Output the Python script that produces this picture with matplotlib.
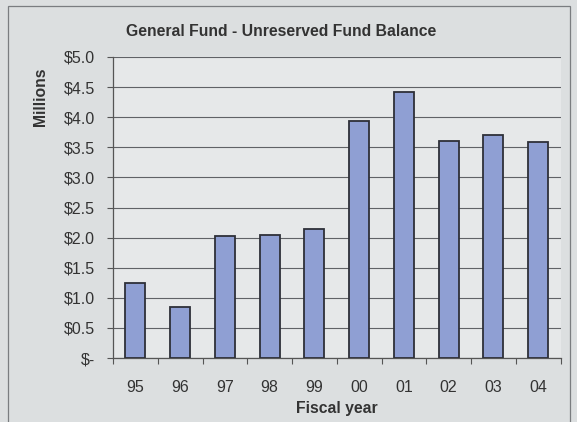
import numpy as np
import matplotlib.pyplot as plt
from matplotlib.patches import Rectangle

# Fiscal years and unreserved fund balance (millions of dollars)
years = ['95', '96', '97', '98', '99', '00', '01', '02', '03', '04']
balance = [1.24, 0.85, 2.03, 2.05, 2.15, 3.94, 4.42, 3.60, 3.70, 3.59]
y_ticks = [0.0, 0.5, 1.0, 1.5, 2.0, 2.5, 3.0, 3.5, 4.0, 4.5, 5.0]

plt.rcParams['font.family'] = ['Liberation Sans', 'DejaVu Sans']

fig = plt.figure(figsize=(5.77, 4.22), dpi=100)
fig.patch.set_facecolor('#dcdfe0')

# Chart frame around everything
fig.patches.append(Rectangle((8 / 577, -0.05), 562 / 577, 1.05 - 6 / 422,
                             transform=fig.transFigure, fill=False,
                             edgecolor='#7a7d80', linewidth=0.9))

ax = fig.add_axes([113 / 577, 64 / 422, 447.5 / 577, 301 / 422])
ax.set_facecolor('#e6e8e9')

x = np.arange(len(years))
ax.bar(x, balance, width=0.45, color='#8f9fd3', edgecolor='#2e3038',
       linewidth=1.3, zorder=3)

ax.set_xlim(-0.5, len(years) - 0.5)
ax.set_ylim(0, 5.0)

ax.set_yticks(y_ticks)
ax.set_yticklabels(['$-' if v == 0 else f'${v:.1f}' for v in y_ticks])
ax.set_xticks(x)
ax.set_xticklabels(years)
ax.set_xticks(np.arange(-0.5, len(years)), minor=True)

ax.tick_params(axis='x', which='major', length=0, pad=16,
               labelsize=11.5, labelcolor='#333333')
ax.tick_params(axis='x', which='minor', length=4, color='#555555', width=0.8)
ax.tick_params(axis='y', length=4, color='#555555', width=0.8, pad=9,
               labelsize=11.5, labelcolor='#333333')

ax.grid(axis='y', color='#606266', linewidth=0.8, zorder=0)
ax.set_axisbelow(True)

for side in ['top', 'right']:
    ax.spines[side].set_visible(False)
for side in ['left', 'bottom']:
    ax.spines[side].set_color('#555555')
    ax.spines[side].set_linewidth(0.9)

fig.text(281 / 577, 1 - 31 / 422, 'General Fund - Unreserved Fund Balance',
         ha='center', va='center', fontsize=11.3, fontweight='bold',
         color='#333333')
fig.text(40 / 577, 1 - 97 / 422, 'Millions', ha='center', va='center',
         rotation=90, fontsize=11.3, fontweight='bold', color='#333333')
fig.text(337 / 577, 1 - 408 / 422, 'Fiscal year', ha='center', va='center',
         fontsize=11.3, fontweight='bold', color='#333333')

fig.savefig('out.png', dpi=100, facecolor=fig.get_facecolor())
